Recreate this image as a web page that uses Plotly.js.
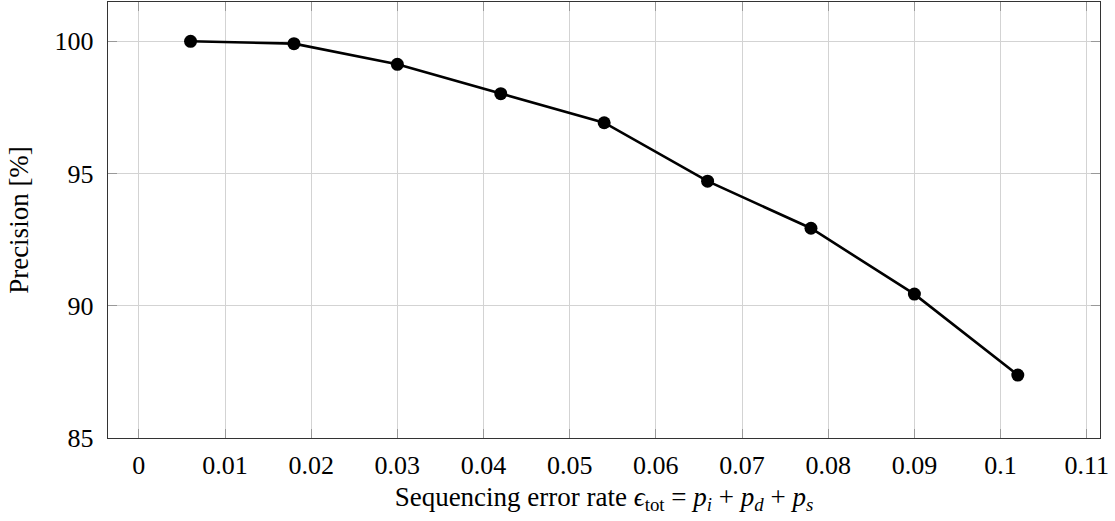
<!DOCTYPE html>
<html>
<head>
<meta charset="utf-8">
<script src="https://cdn.plot.ly/plotly-3.0.1.min.js"></script>
<style>html,body{margin:0;padding:0;background:#fff;}#chart{width:1115px;height:521px;}</style>
</head>
<body>
<div id="chart"></div>
<script>
const errorRate = [0.006, 0.018, 0.030, 0.042, 0.054, 0.066, 0.078, 0.090, 0.102];
const precision = [100.0, 99.91, 99.13, 98.02, 96.92, 94.71, 92.93, 90.44, 87.38];
const xTickVals = [0, 0.01, 0.02, 0.03, 0.04, 0.05, 0.06, 0.07, 0.08, 0.09, 0.10, 0.11];
const xTickText = ["0", "0.01", "0.02", "0.03", "0.04", "0.05", "0.06", "0.07", "0.08", "0.09", "0.1", "0.11"];
const yTickVals = [85, 90, 95, 100];
const yTickText = ["85", "90", "95", "100"];

const serif = "'Liberation Serif', 'DejaVu Serif', serif";

const trace = {
  x: errorRate,
  y: precision,
  type: "scatter",
  mode: "lines+markers",
  line: {color: "#000", width: 2.6},
  marker: {color: "#000", size: 13},
  showlegend: false,
  hoverinfo: "skip"
};

const layout = {
  width: 1115,
  height: 521,
  margin: {l: 108, r: 15, t: 2, b: 83},
  paper_bgcolor: "#fff",
  plot_bgcolor: "#fff",
  font: {family: serif, color: "#000", size: 26},
  xaxis: {
    range: [-0.00358, 0.11154],
    tickvals: xTickVals,
    ticktext: xTickText,
    ticks: "inside",
    ticklen: 9,
    tickwidth: 1,
    tickcolor: "#999",
    showgrid: true,
    gridcolor: "#d3d3d3",
    gridwidth: 1,
    zeroline: false,
    showline: true,
    linecolor: "#333",
    linewidth: 1.3,
    mirror: "ticks",
    ticklabelstandoff: 3,
    tickfont: {family: serif, size: 26, color: "#000"},
    title: {
      text: "Sequencing error rate <i>ϵ</i><sub>tot</sub> = <i>p</i><sub><i>i</i></sub> + <i>p</i><sub><i>d</i></sub> + <i>p</i><sub><i>s</i></sub>",
      font: {family: serif, size: 27, color: "#000"},
      standoff: 8
    }
  },
  yaxis: {
    range: [85, 101.485],
    tickvals: yTickVals,
    ticktext: yTickText,
    ticks: "inside",
    ticklen: 9,
    tickwidth: 1,
    tickcolor: "#999",
    showgrid: true,
    gridcolor: "#d3d3d3",
    gridwidth: 1,
    zeroline: false,
    showline: true,
    linecolor: "#333",
    linewidth: 1.3,
    mirror: "ticks",
    ticklabelstandoff: 8,
    tickfont: {family: serif, size: 26, color: "#000"},
    title: {
      text: "Precision [%]",
      font: {family: serif, size: 27, color: "#000"},
      standoff: 18
    }
  }
};

Plotly.newPlot("chart", [trace], layout, {displayModeBar: false, staticPlot: true});
</script>
</body>
</html>
